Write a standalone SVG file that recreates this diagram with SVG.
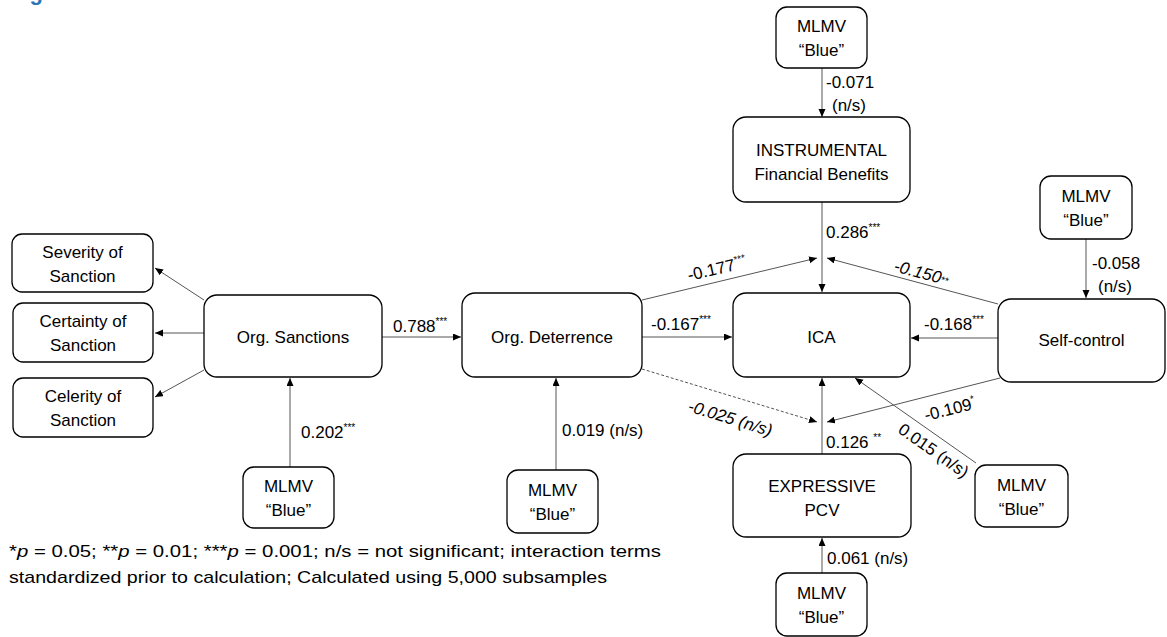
<svg xmlns="http://www.w3.org/2000/svg" width="1167" height="637" viewBox="0 0 1167 637">
  <style>
    .box { fill: #ffffff; stroke: #000000; stroke-width: 1.3; }
    .t { font-family: "Liberation Sans", Arial, sans-serif; font-size: 17px; fill: #000000; }
    .c { text-anchor: middle; }
    .lbl { font-family: "Liberation Sans", Arial, sans-serif; font-size: 17px; fill: #000000; }
    .it { font-style: italic; }
    .sup { font-size: 10px; }
    .edge { stroke: #555555; stroke-width: 1; fill: none; marker-end: url(#arr); }
    .dash { stroke-dasharray: 3 2; }
    .title { font-family: "Liberation Sans", Arial, sans-serif; font-size: 22px; font-weight: bold; fill: #2E74B5; }
  </style>
  <defs>
    <marker id="arr" markerUnits="userSpaceOnUse" markerWidth="9" markerHeight="8" refX="8" refY="3.5" orient="auto">
      <path d="M0,0 L8,3.5 L0,7 z" fill="#000000"/>
    </marker>
  </defs>

  <rect width="1167" height="637" fill="#ffffff"/>

  <!-- heading, running off the top edge -->
  <text class="title" x="10" y="0">Figure 1</text>

  <!-- connectors -->
  <g id="connectors">
    <line class="edge" x1="822" y1="68" x2="822" y2="117"/>
    <line class="edge" x1="822" y1="202" x2="822" y2="292"/>
    <line class="edge" x1="642" y1="300" x2="817" y2="258"/>
    <line class="edge" x1="998" y1="304" x2="827" y2="258"/>
    <line class="edge" x1="998" y1="338" x2="911" y2="338"/>
    <line class="edge" x1="642" y1="337" x2="732" y2="337"/>
    <line class="edge" x1="382" y1="337" x2="461" y2="337"/>
    <line class="edge" x1="204" y1="300" x2="155" y2="268"/>
    <line class="edge" x1="204" y1="333" x2="155" y2="333"/>
    <line class="edge" x1="204" y1="370" x2="155" y2="397"/>
    <line class="edge" x1="290" y1="467" x2="290" y2="378"/>
    <line class="edge" x1="556" y1="470" x2="556" y2="378"/>
    <line class="edge" x1="1086" y1="239" x2="1086" y2="298"/>
    <line class="edge" x1="822" y1="454" x2="822" y2="378"/>
    <line class="edge dash" x1="642" y1="369" x2="817" y2="422"/>
    <line class="edge" x1="1000" y1="378" x2="827" y2="422"/>
    <line class="edge" x1="976" y1="463" x2="855" y2="378"/>
    <line class="edge" x1="822" y1="573" x2="822" y2="538"/>
  </g>

  <!-- connector labels -->
  <g id="labels">
    <text class="lbl" x="826" y="88">-0.071</text>
    <text class="lbl" x="832" y="111">(n/s)</text>
    <text class="lbl" x="826" y="238">0.286<tspan class="sup" dy="-7">***</tspan></text>
    <text class="lbl" transform="translate(689,281) rotate(-13)">-0.177<tspan class="sup" dy="-7">***</tspan></text>
    <text class="lbl it" transform="translate(893,271) rotate(15)">-0.150<tspan class="sup" dy="-1">**</tspan></text>
    <text class="lbl" x="924" y="330">-0.168<tspan class="sup" dy="-7">***</tspan></text>
    <text class="lbl" x="651" y="330">-0.167<tspan class="sup" dy="-7">***</tspan></text>
    <text class="lbl" x="393" y="332">0.788<tspan class="sup" dy="-7">***</tspan></text>
    <text class="lbl" x="301" y="438">0.202<tspan class="sup" dy="-7">***</tspan></text>
    <text class="lbl" x="562" y="436">0.019 (n/s)</text>
    <text class="lbl" x="1092" y="269">-0.058</text>
    <text class="lbl" x="1098" y="292">(n/s)</text>
    <text class="lbl" transform="translate(926,421) rotate(-14)">-0.109<tspan class="sup" dy="-7">*</tspan></text>
    <text class="lbl it" transform="translate(687,411) rotate(17)">-0.025 (n/s)</text>
    <text class="lbl" transform="translate(897,432) rotate(35)">0.015 (n/s)</text>
    <text class="lbl" x="826" y="448">0.126 <tspan class="sup" dy="-7">**</tspan></text>
    <text class="lbl" x="827" y="564">0.061 (n/s)</text>
  </g>

  <!-- nodes -->
  <g id="mlmv-top">
    <rect class="box" x="776" y="7" width="91" height="61" rx="11"/>
    <text class="t c" x="821.5" y="32">MLMV</text>
    <text class="t c" x="821.5" y="56">“Blue”</text>
  </g>
  <g id="instrumental">
    <rect class="box" x="733" y="117" width="177" height="85" rx="13"/>
    <text class="t c" x="821.5" y="156">INSTRUMENTAL</text>
    <text class="t c" x="821.5" y="180">Financial Benefits</text>
  </g>
  <g id="ica">
    <rect class="box" x="733" y="293" width="177" height="84" rx="13"/>
    <text class="t c" x="821.5" y="343">ICA</text>
  </g>
  <g id="org-deterrence">
    <rect class="box" x="462" y="293" width="180" height="84" rx="13"/>
    <text class="t c" x="552" y="343">Org. Deterrence</text>
  </g>
  <g id="org-sanctions">
    <rect class="box" x="204" y="295" width="178" height="82" rx="13"/>
    <text class="t c" x="293" y="343">Org. Sanctions</text>
  </g>
  <g id="severity">
    <rect class="box" x="12" y="234" width="141" height="58" rx="10"/>
    <text class="t c" x="82.5" y="258">Severity of</text>
    <text class="t c" x="82.5" y="282">Sanction</text>
  </g>
  <g id="certainty">
    <rect class="box" x="13" y="303" width="140" height="59" rx="10"/>
    <text class="t c" x="83" y="327">Certainty of</text>
    <text class="t c" x="83" y="351">Sanction</text>
  </g>
  <g id="celerity">
    <rect class="box" x="13" y="378" width="140" height="59" rx="10"/>
    <text class="t c" x="83" y="402">Celerity of</text>
    <text class="t c" x="83" y="426">Sanction</text>
  </g>
  <g id="mlmv-sanctions">
    <rect class="box" x="243" y="467" width="91" height="61" rx="11"/>
    <text class="t c" x="288.5" y="492">MLMV</text>
    <text class="t c" x="288.5" y="516">“Blue”</text>
  </g>
  <g id="mlmv-deterrence">
    <rect class="box" x="507" y="470" width="91" height="63" rx="11"/>
    <text class="t c" x="552.5" y="496">MLMV</text>
    <text class="t c" x="552.5" y="520">“Blue”</text>
  </g>
  <g id="self-control">
    <rect class="box" x="998" y="299" width="167" height="83" rx="13"/>
    <text class="t c" x="1081.5" y="346">Self-control</text>
  </g>
  <g id="mlmv-self">
    <rect class="box" x="1040" y="176" width="92" height="63" rx="11"/>
    <text class="t c" x="1086" y="202">MLMV</text>
    <text class="t c" x="1086" y="226">“Blue”</text>
  </g>
  <g id="expressive">
    <rect class="box" x="733" y="454" width="178" height="83" rx="13"/>
    <text class="t c" x="822" y="492">EXPRESSIVE</text>
    <text class="t c" x="822" y="516">PCV</text>
  </g>
  <g id="mlmv-ica">
    <rect class="box" x="975" y="465" width="93" height="62" rx="11"/>
    <text class="t c" x="1021.5" y="491">MLMV</text>
    <text class="t c" x="1021.5" y="515">“Blue”</text>
  </g>
  <g id="mlmv-bottom">
    <rect class="box" x="776" y="573" width="91" height="63" rx="11"/>
    <text class="t c" x="821.5" y="599">MLMV</text>
    <text class="t c" x="821.5" y="623">“Blue”</text>
  </g>

  <!-- footnote -->
  <g id="note">
    <text class="lbl" x="9" y="557" textLength="652" lengthAdjust="spacingAndGlyphs">*<tspan class="it">p</tspan> = 0.05; **<tspan class="it">p</tspan> = 0.01; ***<tspan class="it">p</tspan> = 0.001; n/s = not significant; interaction terms</text>
    <text class="lbl" x="9" y="583" textLength="598" lengthAdjust="spacingAndGlyphs">standardized prior to calculation; Calculated using 5,000 subsamples</text>
  </g>
</svg>
